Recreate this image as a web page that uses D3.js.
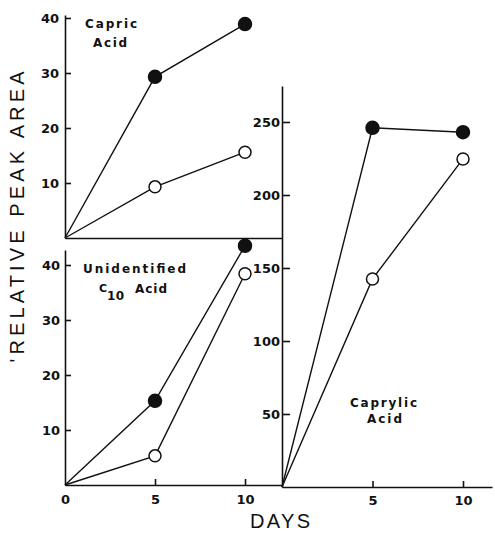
<!DOCTYPE html>
<html>
<head>
<meta charset="utf-8">
<script src="https://cdn.jsdelivr.net/npm/d3@7"></script>
<style>
  html, body { margin: 0; padding: 0; background: #fff; }
  svg { display: block; }
  .tick text { font-family: "DejaVu Sans", sans-serif; font-weight: bold; font-size: 13px; fill: #111; }
  .tick line, .domain { stroke: #111; stroke-width: 1.6; }
  .title { font-family: "DejaVu Sans", sans-serif; font-weight: bold; font-size: 12px; fill: #111; }
  .label { font-family: "Liberation Sans", Arial, sans-serif; font-size: 20px; fill: #111; }
</style>
</head>
<body>
<div id="chart"></div>
<script>
// Days sampled
const days = [0, 5, 10];

// Capric acid (top left)
const capricFilled = [0, 29.3, 38.9];
const capricOpen = [0, 9.3, 15.6];

// Unidentified C10 acid (bottom left)
const c10Filled = [0, 15.3, 43.5];
const c10Open = [0, 5.3, 38.4];

// Caprylic acid (right)
const caprylicFilled = [0, 246, 243];
const caprylicOpen = [0, 142.5, 224.7];

// Tick values
const smallTicks = [10, 20, 30, 40];
const bigTicks = [50, 100, 150, 200, 250];
const leftDayTicks = [0, 5, 10];
const rightDayTicks = [5, 10];

const width = 495;
const height = 534;

const svg = d3.select("#chart").append("svg").attr("width", width).attr("height", height);
svg.append("rect").attr("width", width).attr("height", height).attr("fill", "#fff");

// Scales
const xLeft = d3.scaleLinear().domain([0, 10]).range([65, 245]);
const xRight = d3.scaleLinear().domain([0, 10]).range([282, 463]);
const yTop = d3.scaleLinear().domain([0, 40]).range([238, 18]);
const yBottom = d3.scaleLinear().domain([0, 40]).range([485, 265]);
const yRight = d3.scaleLinear().domain([0, 250]).range([487, 122]);

// stretch a scale so its axis line runs from 0 to the given pixel
function extend(scale, px) {
  return scale.copy().domain([0, scale.invert(px)]).range([scale(0), px]);
}

// y axes (ticks point inward, labels outside)
function yAxis(scale, ticks, top, tickLen, pad) {
  return d3.axisLeft(extend(scale, top)).tickValues(ticks).tickSizeInner(-tickLen).tickSizeOuter(0).tickPadding(pad).tickFormat(d3.format("d"));
}

svg.append("g").attr("transform", `translate(${xLeft(0)},0)`).call(yAxis(yTop, smallTicks, 15, 6, 6));
svg.append("g").attr("transform", `translate(${xLeft(0)},0)`).call(yAxis(yBottom, smallTicks, 250, 6, 5));
svg.append("g").attr("transform", `translate(${xRight(0)},0)`).call(yAxis(yRight, bigTicks, 86, 8, 2));

// x axes
svg.append("g")
  .attr("transform", `translate(0,${yTop(0)})`)
  .call(d3.axisBottom(extend(xLeft, xRight(0))).tickValues([]).tickSizeOuter(0));

svg.append("g")
  .attr("transform", `translate(0,${yBottom(0)})`)
  .call(d3.axisBottom(extend(xLeft, xRight(0))).tickValues(leftDayTicks).tickSizeInner(-6).tickSizeOuter(0).tickPadding(10))
  .call((g) => g.selectAll(".tick").filter((d) => d === 0).select("line").remove());

svg.append("g")
  .attr("transform", `translate(0,${yRight(0)})`)
  .call(d3.axisBottom(extend(xRight, 492)).tickValues(rightDayTicks).tickSizeInner(-6).tickSizeOuter(0).tickPadding(9));

// Series
function drawSeries(x, y, values, filled) {
  const pts = days.map((d, i) => [x(d), y(values[i])]);
  svg.append("path")
    .attr("d", d3.line()(pts))
    .attr("fill", "none")
    .attr("stroke", "#111")
    .attr("stroke-width", 1.4);
  svg.selectAll(null)
    .data(pts.slice(1))
    .join("circle")
    .attr("cx", (p) => p[0])
    .attr("cy", (p) => p[1])
    .attr("r", filled ? 6.5 : 6)
    .attr("fill", filled ? "#111" : "#fff")
    .attr("stroke", "#111")
    .attr("stroke-width", 1.5);
}

drawSeries(xLeft, yTop, capricFilled, true);
drawSeries(xLeft, yTop, capricOpen, false);
drawSeries(xLeft, yBottom, c10Filled, true);
drawSeries(xLeft, yBottom, c10Open, false);
drawSeries(xRight, yRight, caprylicFilled, true);
drawSeries(xRight, yRight, caprylicOpen, false);

// Panel titles
function title(str, x, y, len, size) {
  const t = svg.append("text").attr("class", "title").attr("x", x).attr("y", y).text(str);
  if (len) t.attr("textLength", len).attr("lengthAdjust", "spacing");
  if (size) t.style("font-size", size + "px");
  return t;
}

title("Capric", 85, 28, 52);
title("Acid", 93, 47, 34);

title("Unidentified", 83, 273, 103);
title("C", 99, 292, 8, 11);
title("10", 107, 300, 17);
title("Acid", 135, 293, 32);

title("Caprylic", 350, 407, 67);
title("Acid", 367, 423, 35);

// Axis labels
svg.append("text")
  .attr("class", "label")
  .attr("transform", "translate(24,217) rotate(-90)")
  .attr("text-anchor", "middle")
  .attr("textLength", 291)
  .attr("lengthAdjust", "spacing")
  .text("'RELATIVE PEAK AREA");

svg.append("text")
  .attr("class", "label")
  .attr("x", 250)
  .attr("y", 528)
  .attr("textLength", 60)
  .attr("lengthAdjust", "spacing")
  .text("DAYS");
</script>
</body>
</html>
